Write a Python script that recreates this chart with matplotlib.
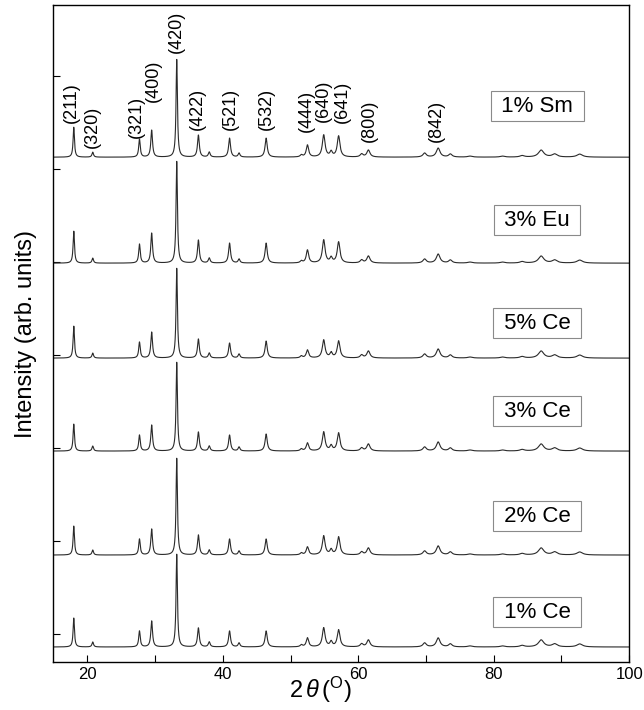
import numpy as np
import matplotlib
matplotlib.use("Agg")
import matplotlib.pyplot as plt

plt.rcParams['font.family'] = ['Liberation Sans', 'DejaVu Sans']
plt.rcParams['mathtext.fontset'] = 'custom'
plt.rcParams['mathtext.rm'] = 'Liberation Sans'
plt.rcParams['mathtext.it'] = 'Liberation Sans:italic'

# peak positions (2theta, deg) and widths (FWHM, deg)
peak_pos = [18.0, 20.8, 27.7, 29.5, 33.2, 36.4, 38.0, 41.0, 42.4, 46.4, 51.6,
            52.5, 54.9, 56.0, 57.1, 60.5, 61.5, 69.8, 71.8, 73.6, 76.5, 81.3,
            84.2, 87.0, 89.0, 92.7]
peak_fwhm = [0.24, 0.27, 0.27, 0.3, 0.24, 0.32, 0.32, 0.34, 0.32, 0.38, 0.4,
             0.42, 0.48, 0.42, 0.48, 0.5, 0.55, 0.6, 0.65, 0.6, 0.8, 0.8,
             0.8, 0.95, 0.9, 1.0]

# small peaks shared by all samples
minor = {1: 5, 6: 5, 8: 4, 10: 2, 13: 5, 15: 3, 16: 7, 17: 4, 18: 9, 19: 3,
         20: 1, 21: 1, 22: 1.5, 23: 7, 24: 3, 25: 3}

# main peak heights (211, 321, 400, 420, 422, 521, 532, 444, 640, 641)
main_idx = [0, 2, 3, 4, 5, 7, 9, 11, 12, 14]
h_ce1 = [29, 16, 26, 93, 19, 16, 16, 9, 19, 17]
h_ce2 = [29, 16, 26, 97, 20, 16, 16, 8, 19, 18]
h_ce3 = [27, 16, 26, 89, 19, 16, 17, 8, 19, 18]
h_ce5 = [32, 16, 26, 90, 19, 15, 17, 8, 18, 17]
h_eu3 = [32, 19, 30, 102, 23, 20, 20, 13, 23, 21]
h_sm1 = [30, 18, 27, 98, 22, 19, 19, 12, 22, 21]

samples = ['1% Ce', '2% Ce', '3% Ce', '5% Ce', '3% Eu', '1% Sm']
heights = [h_ce1, h_ce2, h_ce3, h_ce5, h_eu3, h_sm1]
offsets = [15, 107, 211, 304, 399, 505]
label_y = [50, 146, 251, 339, 442, 556]

hkl = ['(211)', '(320)', '(321)', '(400)', '(420)', '(422)', '(521)', '(532)',
       '(444)', '(640)', '(641)', '(800)', '(842)']
hkl_x = [17.7, 20.7, 27.3, 29.7, 33.1, 36.2, 41.1, 46.5, 52.3, 54.8, 57.7, 61.7, 71.6]
hkl_y = [539, 514, 524, 560, 609, 532, 532, 532, 530, 540, 539, 520, 520]

tt = np.linspace(15, 100, 6000)


def pattern(h_main):
    amp = [0.0] * len(peak_pos)
    for i, a in minor.items():
        amp[i] = a
    for i, a in zip(main_idx, h_main):
        amp[i] = a
    y = np.zeros_like(tt)
    for p, w, a in zip(peak_pos, peak_fwhm, amp):
        g = (w / 2) ** 2
        y += a * g / ((tt - p) ** 2 + g)
    return y


fig = plt.figure(figsize=(6.44, 7.10), dpi=100)
ax = fig.add_axes([0.083, 0.0676, 0.894, 0.925])

for name, h, off, ly in zip(samples, heights, offsets, label_y):
    ax.plot(tt, pattern(h) + off, color='#2a2a2a', lw=0.8)
    ax.text(86.4, ly, ' ' + name + ' ', fontsize=16, ha='center', va='center',
            bbox=dict(boxstyle='square,pad=0.2', fc='white', ec='#8a8a8a', lw=0.8))

for s, x, y in zip(hkl, hkl_x, hkl_y):
    ax.text(x, y, s, rotation=90, fontsize=13, ha='center', va='bottom')

ax.set_xlim(15, 100)
ax.set_ylim(0, 657)
ax.set_xticks([20, 40, 60, 80, 100])
ax.set_xticks([30, 50, 70, 90], minor=True)
ax.set_yticks([28, 121, 214, 307, 400, 493, 586])
ax.set_yticklabels([])
ax.tick_params(axis='both', direction='in', length=5, width=0.8, labelsize=12)
ax.tick_params(axis='x', which='minor', direction='in', length=5, width=0.8)
for sp in ax.spines.values():
    sp.set_linewidth(1.0)

fig.text(0.497, 0.028, r'2$\,\theta\,$($^{\rm O}$)', fontsize=17, ha='center', va='center')
ax.set_ylabel('Intensity (arb. units)', fontsize=17, labelpad=8)

fig.savefig('out.png', dpi=100)
